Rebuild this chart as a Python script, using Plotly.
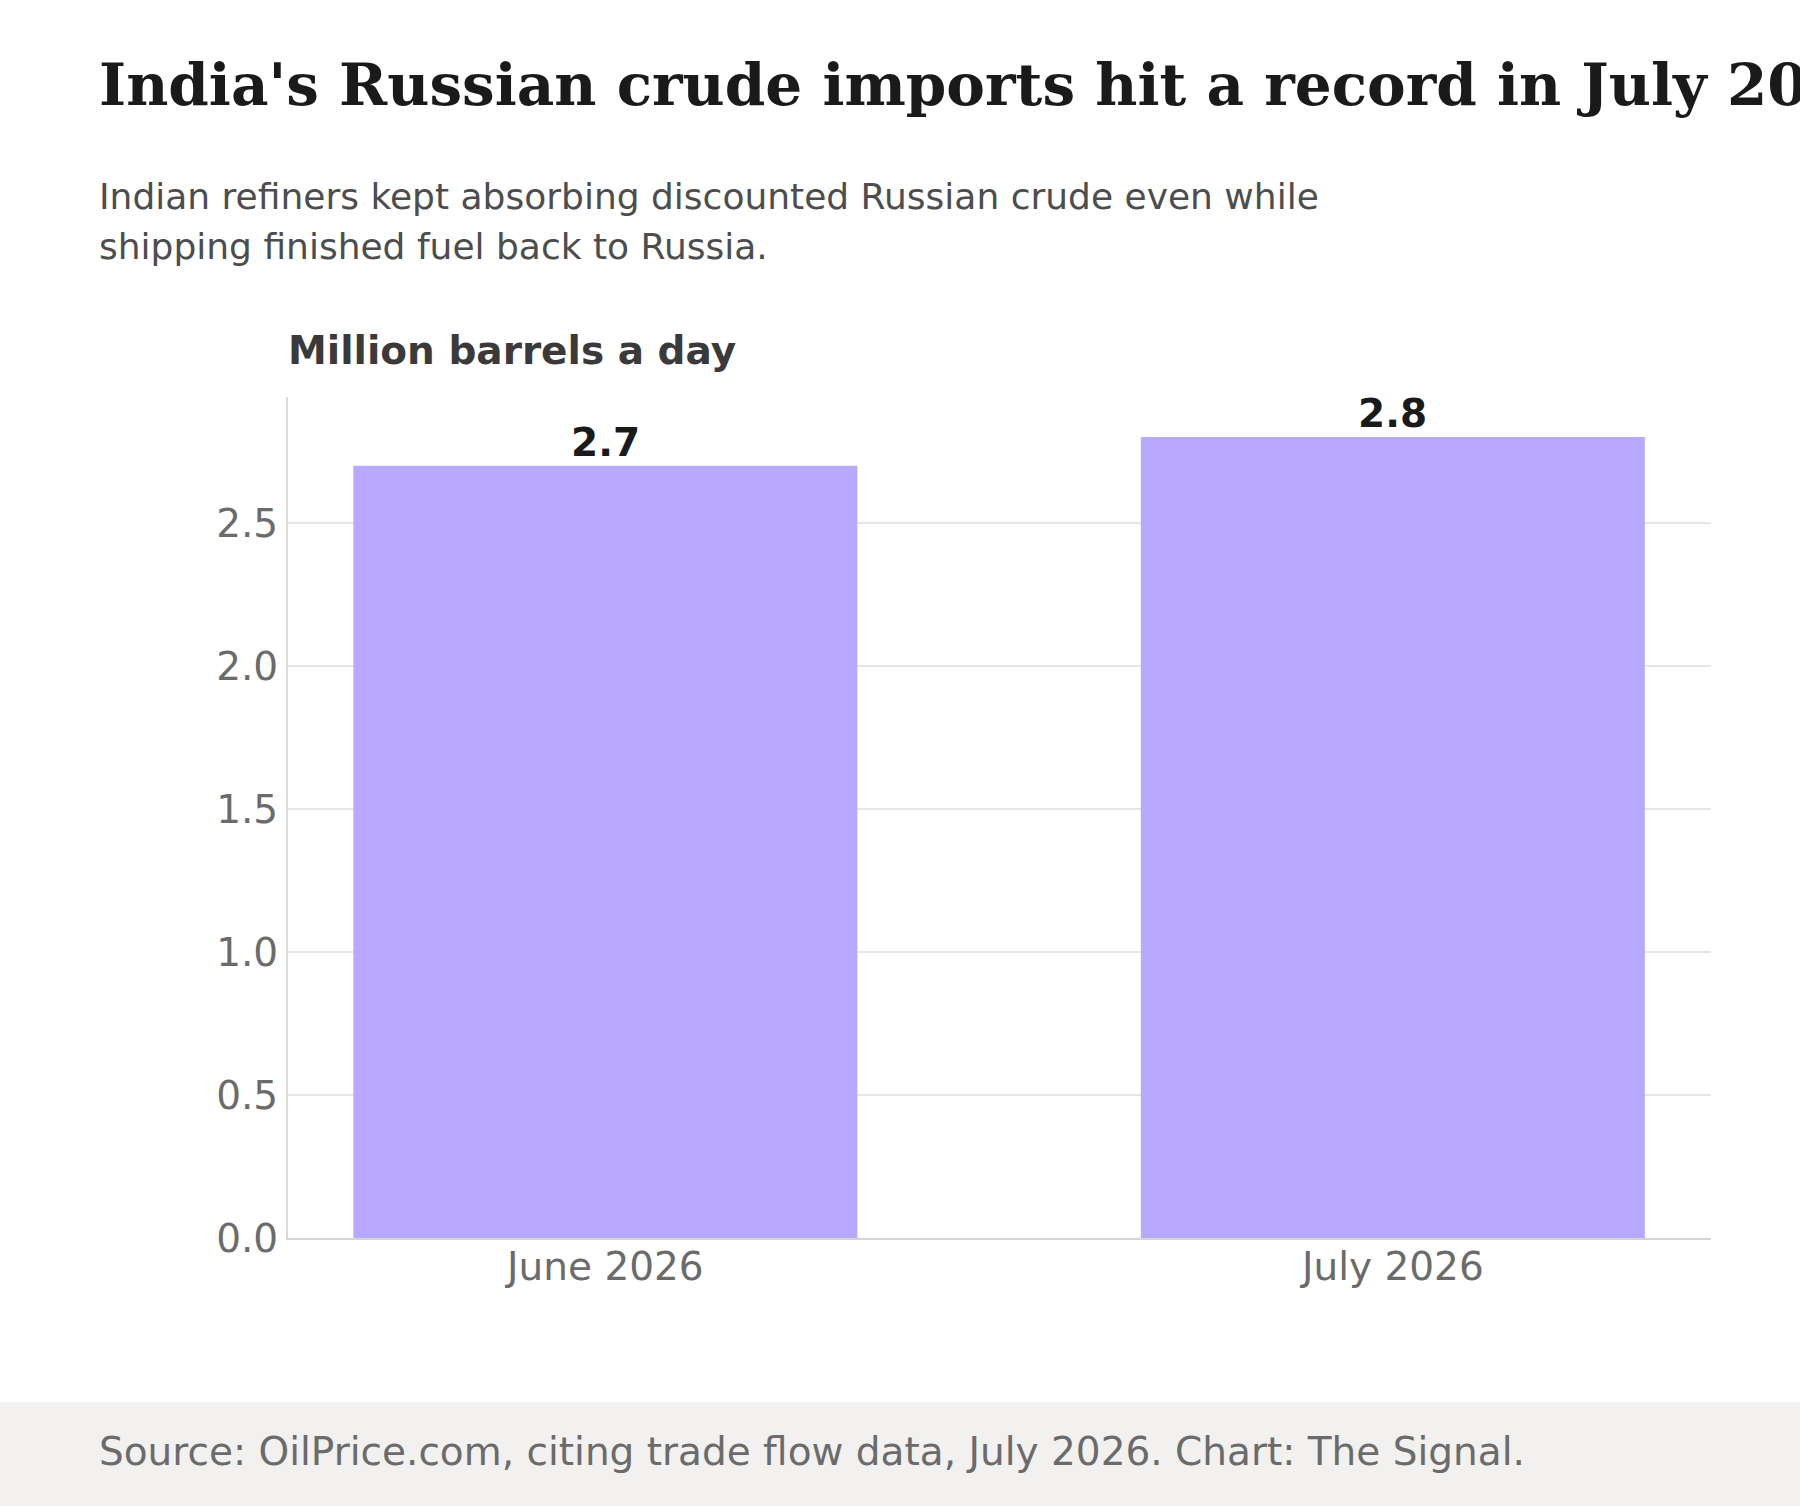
import plotly.graph_objects as go

# ---- data ----
categories = ["June 2026", "July 2026"]
values = [2.7, 2.8]
value_labels = ["2.7", "2.8"]
y_ticks = [0.0, 0.5, 1.0, 1.5, 2.0, 2.5]
y_tick_labels = ["0.0", "0.5", "1.0", "1.5", "2.0", "2.5"]

title_text = "India's Russian crude imports hit a record in July 2026"
subtitle_lines = [
    "Indian refiners kept absorbing discounted Russian crude even while",
    "shipping finished fuel back to Russia.",
]
axis_title = "Million barrels a day"
source_text = "Source: OilPrice.com, citing trade flow data, July 2026. Chart: The Signal."

# ---- layout geometry (pixels) ----
W, H = 1800, 1506
ML, MR, MT, MB = 288, 89, 397, 268
PW = W - ML - MR
PH = H - MT - MB


def px_x(x):
    return (x - ML) / PW


def px_y(y):
    return (H - MB - y) / PH


SANS = "DejaVu Sans"
SERIF = "DejaVu Serif"

fig = go.Figure()
fig.add_trace(
    go.Bar(
        x=categories,
        y=values,
        width=0.64,
        marker=dict(color="#b8a8ff", line=dict(width=0)),
        hoverinfo="skip",
    )
)

annotations = [
    dict(text=title_text, x=px_x(97), y=px_y(85), xanchor="left", yanchor="middle",
         xref="paper", yref="paper",
         font=dict(family=SERIF, size=58, color="#1a1a1a", weight="bold")),
    dict(text=subtitle_lines[0], x=px_x(97), y=px_y(196), xanchor="left", yanchor="middle",
         xref="paper", yref="paper",
         font=dict(family=SANS, size=36, color="#4d4d4d")),
    dict(text=subtitle_lines[1], x=px_x(97), y=px_y(246), xanchor="left", yanchor="middle",
         xref="paper", yref="paper",
         font=dict(family=SANS, size=36, color="#4d4d4d")),
    dict(text=axis_title, x=px_x(286), y=px_y(351), xanchor="left", yanchor="middle",
         xref="paper", yref="paper",
         font=dict(family=SANS, size=39, color="#3a3a3a", weight="bold")),
    dict(text=source_text, x=px_x(97), y=px_y(1451), xanchor="left", yanchor="middle",
         xref="paper", yref="paper",
         font=dict(family=SANS, size=39, color="#6b6b6b")),
]
# value labels above bars, positioned by the data
for cat, val, lab in zip(categories, values, value_labels):
    annotations.append(
        dict(text=lab, x=cat, y=val, xref="x", yref="y", xanchor="center", yanchor="bottom",
             yshift=-1,
             font=dict(family=SANS, size=39, color="#1a1a1a", weight="bold"))
    )
for a in annotations:
    a.update(showarrow=False, align="left")

fig.update_layout(
    width=W,
    height=H,
    margin=dict(l=ML, r=MR, t=MT, b=MB, pad=0),
    paper_bgcolor="#ffffff",
    plot_bgcolor="#ffffff",
    showlegend=False,
    annotations=annotations,
    shapes=[
        dict(type="rect", xref="paper", yref="paper",
             x0=px_x(-20), x1=px_x(W + 20), y0=px_y(H + 20), y1=px_y(1402),
             fillcolor="#f2f1ef", line=dict(width=0), layer="below"),
    ],
    xaxis=dict(
        type="category",
        range=[-0.403, 1.404],
        showgrid=False,
        showline=True,
        linecolor="#d6d6d0",
        linewidth=2,
        ticks="",
        ticklabelstandoff=-7,
        tickfont=dict(family=SANS, size=39, color="#6b6b6b"),
        zeroline=False,
        fixedrange=True,
    ),
    yaxis=dict(
        range=[0, 2.94],
        tickvals=y_ticks,
        ticktext=y_tick_labels,
        showgrid=True,
        gridcolor="#e6e6e6",
        gridwidth=2,
        showline=True,
        linecolor="#dcdcd6",
        linewidth=2,
        ticks="",
        tickfont=dict(family=SANS, size=39, color="#6b6b6b"),
        zeroline=False,
        fixedrange=True,
    ),
)

fig.write_html(
    "out.html",
    config={"displayModeBar": False},
    post_script="document.body.style.margin='0';document.body.style.overflow='hidden';",
)
